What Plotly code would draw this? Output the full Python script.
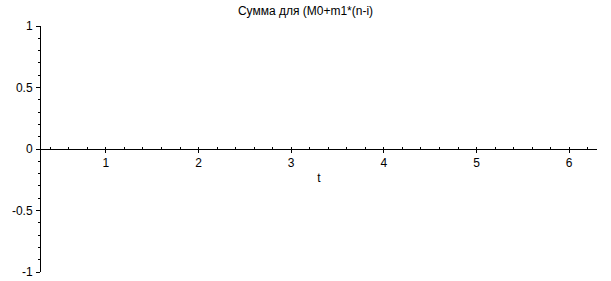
import plotly.graph_objects as go

title_text = "Сумма для (M0+m1*(n-i)"
x_label = "t"
t_vals = []
sum_vals = []
x_tick_vals = [1, 2, 3, 4, 5, 6]
x_tick_text = ["1", "2", "3", "4", "5", "6"]
y_tick_vals = [1, 0.5, 0, -0.5, -1]
y_tick_text = ["1", "0.5", "0", "-0.5", "-1"]
x_range = [0.3, 6.3]
y_range = [-1, 1]

font_family = "Liberation Sans, Arial, sans-serif"

fig = go.Figure()
fig.add_trace(go.Scatter(x=t_vals, y=sum_vals, mode="lines",
                         line=dict(color="red", width=1), showlegend=False))

fig.update_layout(
    width=611, height=281,
    margin=dict(l=41, r=14, t=26, b=9, autoexpand=False),
    paper_bgcolor="white", plot_bgcolor="white",
    font=dict(family=font_family, size=12, color="black"),
    title=dict(text=title_text, x=0.5, xanchor="center", y=1 - 11/281,
               yanchor="middle", font=dict(size=12, family=font_family)),
    xaxis=dict(
        range=x_range, anchor="free", position=0.5, automargin=False,
        showline=True, linecolor="black", linewidth=1,
        showgrid=False, zeroline=False,
        tickmode="array", tickvals=x_tick_vals, ticktext=x_tick_text,
        ticks="outside", ticklen=3, tickcolor="black", tickwidth=1,
        minor=dict(tickmode="linear", tick0=0, dtick=0.2, ticks="inside",
                   ticklen=2, tickcolor="black", tickwidth=1, showgrid=False),
        title=dict(text=x_label, standoff=4, font=dict(size=12)),
        tickfont=dict(size=12),
    ),
    yaxis=dict(
        range=y_range, automargin=False,
        showline=True, linecolor="black", linewidth=1,
        showgrid=False, zeroline=False,
        tickmode="array", tickvals=y_tick_vals, ticktext=y_tick_text,
        ticks="outside", ticklen=4, tickcolor="black", tickwidth=1,
        minor=dict(tickmode="linear", tick0=0, dtick=0.1, ticks="outside",
                   ticklen=2, tickcolor="black", tickwidth=1, showgrid=False),
        ticklabelstandoff=1,
        tickfont=dict(size=12),
    ),
)

fig.write_html("out.html")
